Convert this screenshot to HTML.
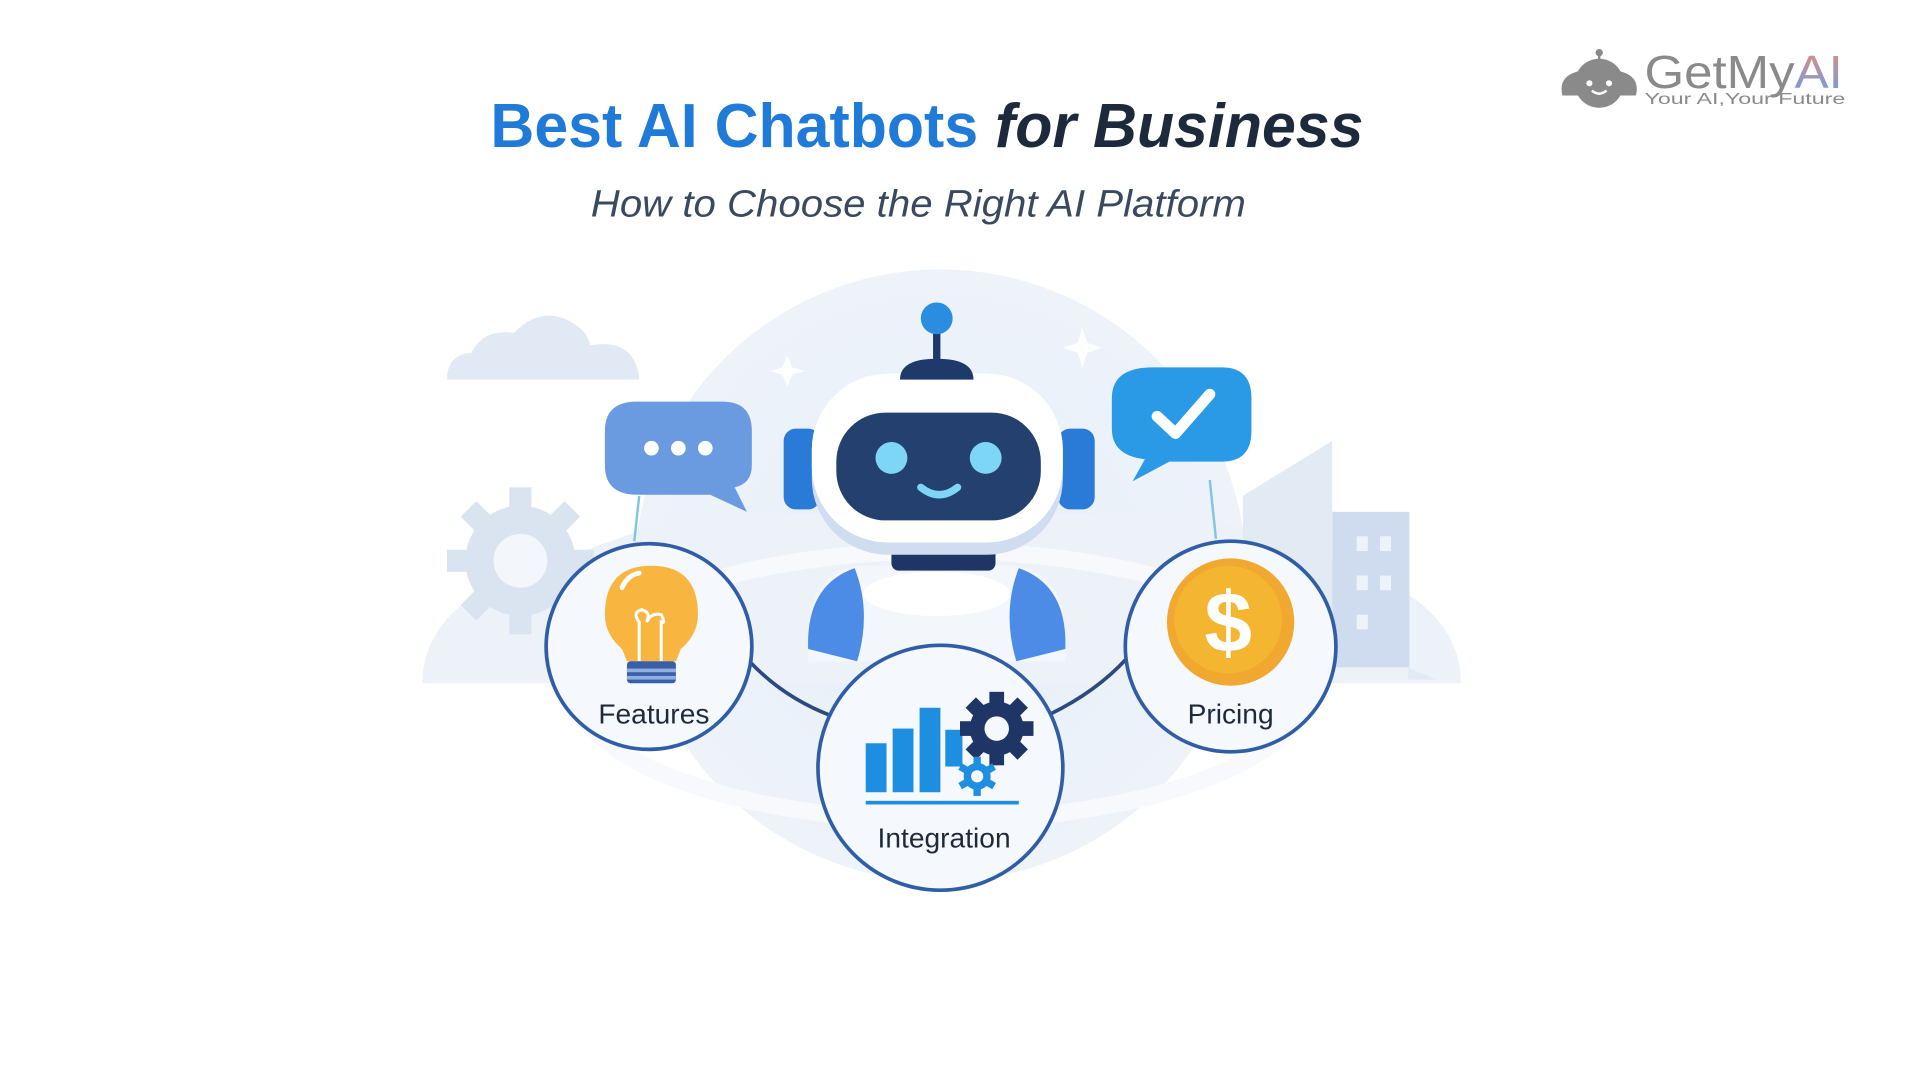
<!DOCTYPE html>
<html><head><meta charset="utf-8"><style>
html,body{margin:0;padding:0;background:#fff;}
svg{display:block;}
text{font-family:"Liberation Sans",sans-serif;}
</style></head><body>
<svg width="1920" height="1080" viewBox="0 0 1568 882" preserveAspectRatio="none">
<defs>
<radialGradient id="bg" cx="0.5" cy="0.5" r="0.5"><stop offset="0" stop-color="#e6eef8"/><stop offset="1" stop-color="#eef3fa"/></radialGradient>
<linearGradient id="ai" x1="0" y1="0" x2="0" y2="1"><stop offset="0" stop-color="#e0907a"/><stop offset="1" stop-color="#6a9be8"/></linearGradient>
</defs>
<rect width="1568" height="882" fill="#fff"/>
<!-- background -->
<circle cx="768" cy="470" r="250" fill="url(#bg)"/>
<path d="M345 558 Q345 500 420 470 L560 420 L980 420 L1120 470 Q1193 500 1193 558 Z" fill="#edf2f9"/>
<ellipse cx="768" cy="560" rx="300" ry="110" fill="none" stroke="#f7f9fc" stroke-width="14"/>
<path d="M365 310 Q365 290 385 288 Q395 268 420 272 Q440 250 465 262 Q480 270 482 282 Q505 278 515 290 Q522 300 522 310 Z" fill="#e0e9f4"/>
<g transform="translate(425,458)" fill="#d9e4f0">
<circle r="45"/>
<g id="t"><rect x="-9" y="-60" width="18" height="20"/></g>
<use href="#t" transform="rotate(45)"/><use href="#t" transform="rotate(90)"/><use href="#t" transform="rotate(135)"/><use href="#t" transform="rotate(180)"/><use href="#t" transform="rotate(225)"/><use href="#t" transform="rotate(270)"/><use href="#t" transform="rotate(315)"/>
<circle r="22" fill="#f3f6fa"/>
</g>
<path d="M1015 545 L1015 405 L1088 360 L1088 545 Z" fill="#e2eaf4"/>
<rect x="1088" y="418" width="63" height="127" fill="#cfdcf0"/>
<g fill="#eef3fa"><rect x="1108" y="438" width="9" height="12"/><rect x="1127" y="438" width="9" height="12"/><rect x="1108" y="470" width="9" height="12"/><rect x="1127" y="470" width="9" height="12"/><rect x="1108" y="502" width="9" height="12"/></g>
<path d="M1150 545 L1173 555 L1150 555 Z" fill="#e2eaf4"/>
<!-- sparkles -->
<path d="M643 290 L647 300 L657 303 L647 306 L643 316 L639 306 L629 303 L639 300 Z" fill="#fff"/>
<path d="M884 268 L888 280 L900 284 L888 288 L884 300 L880 288 L868 284 L880 280 Z" fill="#fff"/>
<!-- title -->
<text x="757" y="120" text-anchor="middle" font-size="51" font-weight="bold" textLength="713" lengthAdjust="spacingAndGlyphs"><tspan fill="#1f7ad8">Best AI Chatbots</tspan><tspan fill="#1c2a3c" font-style="italic"> for Business</tspan></text>
<text x="750" y="177" text-anchor="middle" font-size="31" font-style="italic" fill="#3a4a5e" textLength="535" lengthAdjust="spacingAndGlyphs">How to Choose the Right AI Platform</text>
<!-- logo -->
<g fill="#8a8a8a">
<path d="M1276 78 Q1272 62 1290 58 Q1305 48 1322 58 Q1340 62 1336 78 Z"/>
<circle cx="1306" cy="68" r="20"/>
<rect x="1305" y="42" width="2" height="10"/><circle cx="1306" cy="43" r="3"/>
<circle cx="1298" cy="68" r="2.5" fill="#fff"/><circle cx="1314" cy="68" r="2.5" fill="#fff"/>
<path d="M1300 74 Q1306 79 1312 74" stroke="#fff" stroke-width="2" fill="none"/>
<text x="1343" y="72" font-size="38" fill="#8a8a8a" textLength="162" lengthAdjust="spacingAndGlyphs">GetMy<tspan fill="url(#ai)">AI</tspan></text>
<text x="1343" y="85" font-size="13" fill="#8a8a8a" textLength="164" lengthAdjust="spacingAndGlyphs">Your AI,Your Future</text>
</g>
<!-- connectors -->
<path d="M612 540 Q640 570 680 585" stroke="#2c4a80" stroke-width="3" fill="none"/>
<path d="M858 583 Q895 565 920 538" stroke="#2c4a80" stroke-width="3" fill="none"/>
<path d="M522 405 L518 442" stroke="#7fc6e0" stroke-width="2"/>
<path d="M988 392 L993 440" stroke="#7fc6e0" stroke-width="2"/>
<!-- bubbles -->
<path d="M520 328 L590 328 Q614 328 614 352 L614 380 Q614 395 600 398 L610 418 L580 404 L520 404 Q494 404 494 380 L494 352 Q494 328 520 328 Z" fill="#6a9be0"/>
<circle cx="532" cy="366" r="6" fill="#fff"/><circle cx="554" cy="366" r="6" fill="#fff"/><circle cx="576" cy="366" r="6" fill="#fff"/>
<path d="M942 300 L998 300 Q1022 300 1022 325 L1022 352 Q1022 377 998 377 L955 377 L925 393 L935 375 Q908 372 908 350 L908 325 Q908 300 942 300 Z" fill="#2a9ae6"/>
<path d="M945 340 L960 354 L988 322" stroke="#fff" stroke-width="9" fill="none" stroke-linecap="round" stroke-linejoin="round"/>
<!-- robot -->
<path d="M660 520 Q660 470 700 462 L830 462 Q870 470 870 520 L870 540 L660 540 Z" fill="#f3f7fc"/>
<path d="M660 530 Q658 478 698 464 Q712 500 700 540 Z" fill="#4c8ce6"/>
<path d="M870 530 Q872 478 832 464 Q818 500 830 540 Z" fill="#4c8ce6"/>
<ellipse cx="765" cy="485" rx="60" ry="18" fill="#fff"/>
<rect x="728" y="440" width="85" height="26" rx="6" fill="#1e3566"/>
<rect x="640" y="350" width="30" height="66" rx="10" fill="#2a7ad8"/>
<rect x="864" y="350" width="30" height="66" rx="10" fill="#2a7ad8"/>
<rect x="663" y="305" width="205" height="148" rx="62" fill="#d0dcf0"/>
<rect x="663" y="305" width="205" height="138" rx="62" fill="#fff"/>
<rect x="683" y="337" width="167" height="88" rx="40" fill="#24406e"/>
<circle cx="728" cy="374" r="13" fill="#7dd6f5"/><circle cx="805" cy="374" r="13" fill="#7dd6f5"/>
<path d="M752 398 Q767 410 782 398" stroke="#7dd6f5" stroke-width="6" fill="none" stroke-linecap="round"/>
<path d="M735 310 Q735 293 765 293 Q795 293 795 310 Z" fill="#1e3a6a"/>
<rect x="762" y="268" width="6" height="28" fill="#1e3a6a"/>
<circle cx="765" cy="260" r="13" fill="#2a8de0"/>
<!-- circles -->
<circle cx="530" cy="528" r="84" fill="#f5f8fc" stroke="#2f5ea6" stroke-width="3"/>
<circle cx="1005" cy="528" r="86" fill="#f5f8fc" stroke="#2f5ea6" stroke-width="3"/>
<circle cx="768" cy="627" r="100" fill="#f5f8fc" stroke="#2f5ea6" stroke-width="3"/>
<!-- bulb -->
<path d="M532 462 Q570 462 570 502 Q570 518 556 530 L552 540 L512 540 L508 530 Q494 518 494 502 Q494 462 532 462 Z" fill="#f8b640"/>
<path d="M508 480 Q512 470 522 468" stroke="#fff" stroke-width="4" fill="none" stroke-linecap="round"/>
<path d="M522 540 L522 508 Q516 500 524 498 Q532 500 528 508 Q532 500 540 502 Q544 510 540 508 L540 540" stroke="#fff" stroke-width="2.5" fill="none"/>
<rect x="512" y="540" width="40" height="18" rx="3" fill="#3a5fa8"/>
<rect x="512" y="546" width="40" height="3" fill="#8fb0e0"/><rect x="512" y="552" width="40" height="3" fill="#8fb0e0"/>
<text x="534" y="591" text-anchor="middle" font-size="23" fill="#1c2a3c">Features</text>
<!-- coin -->
<circle cx="1005" cy="508" r="52" fill="#f0a830"/>
<circle cx="1003" cy="506" r="44" fill="#f4b530"/>
<text x="1003" y="532" text-anchor="middle" font-size="70" font-weight="bold" fill="#fff">$</text>
<text x="1005" y="591" text-anchor="middle" font-size="23" fill="#1c2a3c">Pricing</text>
<!-- integration -->
<g fill="#1e8ee0"><rect x="707" y="607" width="17" height="40"/><rect x="729" y="595" width="17" height="52"/><rect x="751" y="578" width="17" height="69"/><rect x="772" y="596" width="14" height="30"/></g>
<rect x="707" y="654" width="125" height="3" fill="#1e8ee0"/>
<g transform="translate(814,595)" fill="#1e3566">
<circle r="22"/>
<g id="t2"><rect x="-6" y="-30" width="12" height="12"/></g>
<use href="#t2" transform="rotate(45)"/><use href="#t2" transform="rotate(90)"/><use href="#t2" transform="rotate(135)"/><use href="#t2" transform="rotate(180)"/><use href="#t2" transform="rotate(225)"/><use href="#t2" transform="rotate(270)"/><use href="#t2" transform="rotate(315)"/>
<circle r="10" fill="#f5f8fc"/>
</g>
<g transform="translate(798,634)" fill="#1e8ee0">
<circle r="11"/>
<g id="t3"><rect x="-3" y="-16" width="6" height="7"/></g>
<use href="#t3" transform="rotate(60)"/><use href="#t3" transform="rotate(120)"/><use href="#t3" transform="rotate(180)"/><use href="#t3" transform="rotate(240)"/><use href="#t3" transform="rotate(300)"/>
<circle r="5" fill="#f5f8fc"/>
</g>
<text x="771" y="692" text-anchor="middle" font-size="23" fill="#1c2a3c">Integration</text>
</svg>
</body></html>
